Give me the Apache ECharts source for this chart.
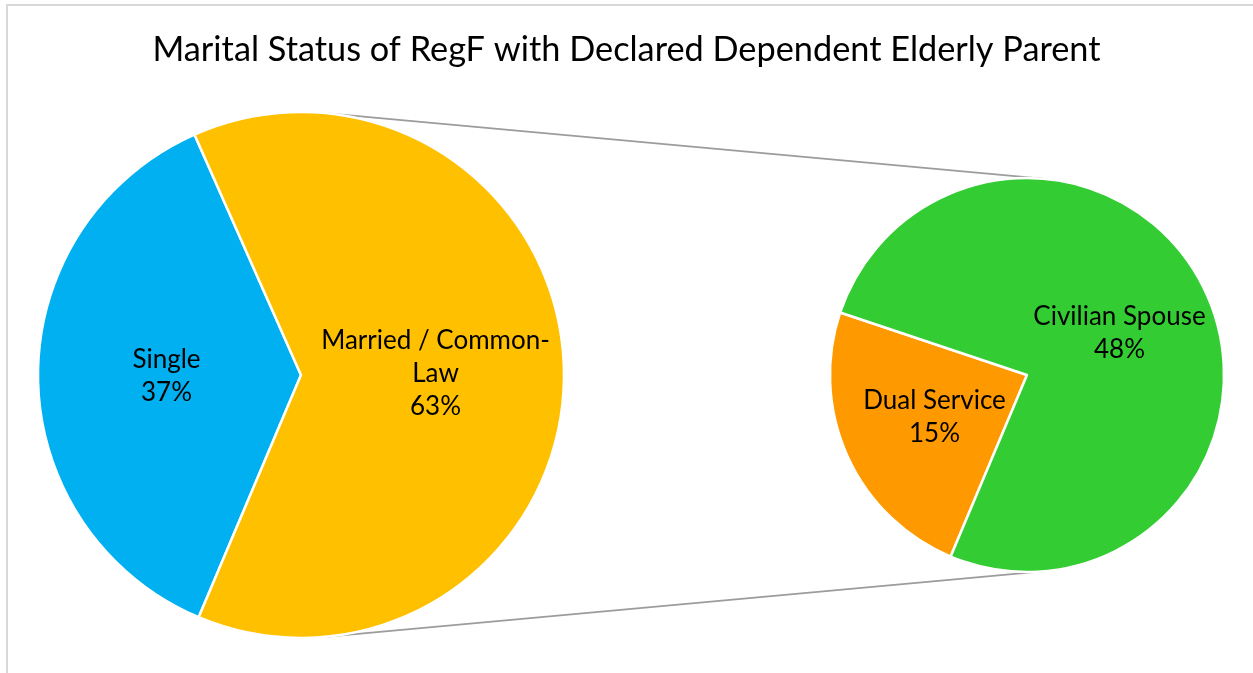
<!DOCTYPE html>
<html>
<head>
<meta charset="utf-8">
<script src="https://cdn.jsdelivr.net/npm/echarts@6/dist/echarts.min.js"></script>
<style>
  html, body { margin: 0; padding: 0; background: #ffffff; }
  #chart { width: 1253px; height: 673px; }
</style>
</head>
<body>
<div id="chart"></div>
<script>
// Main pie: share of all members
const mainNames = ['Single', 'Married / Common-Law'];
const mainValues = [37, 63];
const mainColors = ['#00B0F0', '#FFC000'];

// Secondary pie: breakdown of the married / common-law share
const subNames = ['Dual Service', 'Civilian Spouse'];
const subValues = [15, 48];
const subColors = ['#FF9900', '#33CC33'];

const titleText = 'Marital Status of RegF with Declared Dependent Elderly Parent';

// Layout
const FONT = 'Lato, "Open Sans", sans-serif';
const mainC = [301, 375], mainR = 263;
const subC = [1027, 375], subR = 197;

function toData(names, values, colors) {
  return names.map((n, i) => ({ name: n, value: values[i], itemStyle: { color: colors[i] } }));
}

// External tangent lines joining the two pies
function connectors() {
  const d = subC[0] - mainC[0];
  const s = (mainR - subR) / d;
  const c = Math.sqrt(1 - s * s);
  const lines = [];
  [-1, 1].forEach(sign => {
    lines.push({
      type: 'line',
      z: 1,
      shape: {
        x1: mainC[0] + mainR * s, y1: mainC[1] + sign * mainR * c,
        x2: subC[0] + subR * s, y2: subC[1] + sign * subR * c
      },
      style: { stroke: '#9c9c9c', lineWidth: 1.75 }
    });
  });
  return lines;
}

const labelStyle = {
  show: true,
  position: 'inside',
  color: '#000000',
  fontFamily: FONT,
  fontSize: 26,
  lineHeight: 33,
  formatter: p => p.name.replace('Common-', 'Common-\n') + '\n' + p.value + '%'
};

const chart = echarts.init(document.getElementById('chart'), null, { renderer: 'canvas' });
chart.setOption({
  backgroundColor: '#ffffff',
  animation: false,
  title: {
    text: titleText,
    left: 'center',
    top: 28,
    textStyle: { fontFamily: FONT, fontSize: 34.3, fontWeight: 'normal', color: '#000000' }
  },
  graphic: [
    {
      type: 'rect',
      z: 0,
      shape: { x: 7, y: 5, width: 1400, height: 800 },
      style: { fill: 'none', stroke: '#d9d9d9', lineWidth: 2 }
    }
  ].concat(connectors()),
  series: [
    {
      type: 'pie',
      z: 3,
      center: mainC,
      radius: mainR,
      startAngle: 247.1,
      clockwise: true,
      silent: true,
      label: labelStyle,
      labelLine: { show: false },
      itemStyle: { borderColor: '#ffffff', borderWidth: 2.5 },
      data: toData(mainNames, mainValues, mainColors)
    },
    {
      type: 'pie',
      z: 3,
      center: subC,
      radius: subR,
      startAngle: 247.2,
      clockwise: true,
      silent: true,
      label: labelStyle,
      labelLine: { show: false },
      itemStyle: { borderColor: '#ffffff', borderWidth: 2.5 },
      data: toData(subNames, subValues, subColors)
    }
  ]
});
</script>
</body>
</html>
